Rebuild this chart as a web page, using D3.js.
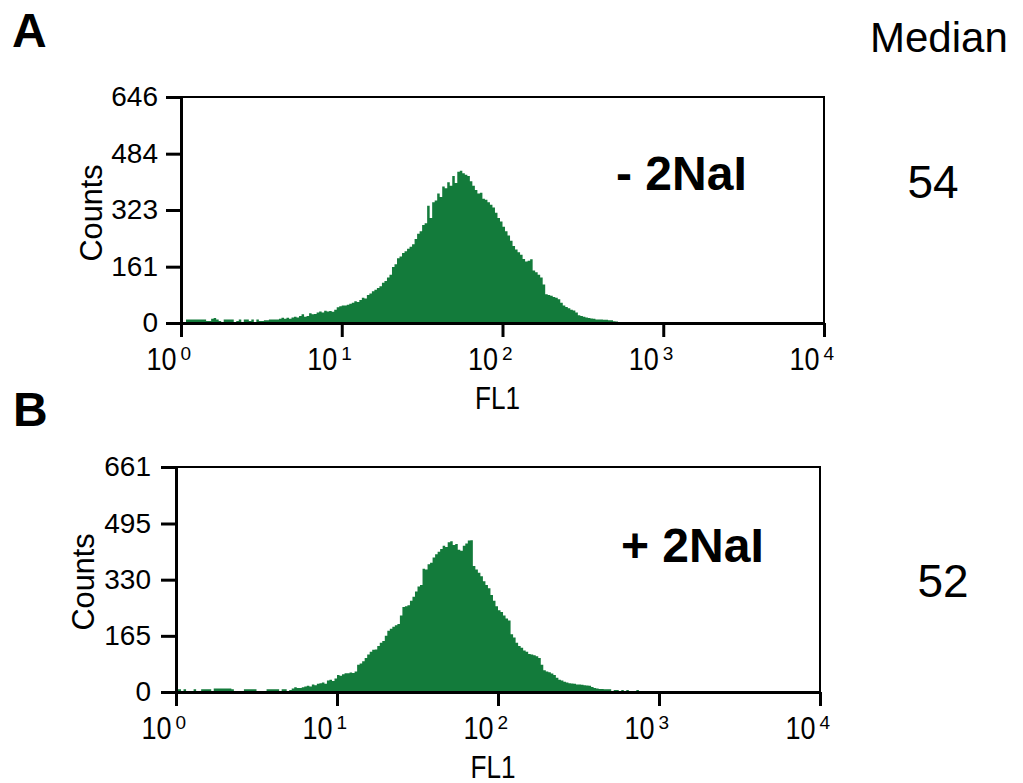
<!doctype html>
<html>
<head>
<style>
  body { margin: 0; background: #fff; }
  svg text { font-family: "Liberation Sans", Arial, sans-serif; fill: #000; }
  .axis path, .axis line { stroke: #000; stroke-width: 3; }
  .frame { fill: none; stroke: #000; stroke-width: 2; }
</style>
<script src="https://d3js.org/d3.v7.min.js"></script>
</head>
<body>
<svg width="1023" height="783"></svg>
<script>
// histogram counts, one value per channel (64 channels per decade, starting at 10^0)
var countsA = [0,0,10,10,10,10,10,10,10,10, 6,6,12,14,10,6,0,10,10,10, 10,0,6,10,0,10,10,6,10,0,
  10,6,6,8,8,10,10,10,10,12, 15,12,15,12,16,18,16,20,25,18, 20,28,25,26,30,33,30,35,33,34,
  32,38,45,48, 50,50,52,55,58,62,60,66,72,70, 80,84,91,95,100,105,115,120,130,138,
  160,168,185,190,200,205,212,218,225,240, 255,262,280,285,335,300,345,350,370,360,
  390,385,402,392,420,400,432,435,428,424, 420,405,392,380,370,372,355,352,345,338,
  330,315,300,290,275,262,250,235,220,210, 202,195,183,176,178,182,150,145,138,130,
  110,82,80,78,74,72,68,58,50,46, 42,38,36,30,22,20,18,16,14,13,
  12,10,10,10,9,9,8,8,5,4];
var countsB = [8,8,0,8,0,0,0,8,0,0, 8,8,8,8,0,10,10,10,10,10, 10,10,8,0,0,0,0,8,8,8,
  8,8,0,0,0,0,8,8,8,8, 8,0,8,8,0,6,10,14,12,12, 14,16,18,16,22,20,24,26,28,24,
  34,36,32,40, 50,48,52,55,55,57,56,60,80,84, 90,100,110,118,124,125,135,145,150,165,
  180,186,192,196,200,225,250,252,255,268, 280,295,310,314,362,360,375,380,395,405,
  412,420,430,426,440,443,432,435,418,415, 430,436,445,446,370,360,350,340,325,314,
  305,285,268,252,240,235,225,216,210,170, 160,145,135,130,122,118,112,110,108,105,
  100,80,64,60,58,54,50,42,36,34, 30,28,26,25,24,22,22,21,20,19,
  18,15,12,10,9,9,8,8,8,0, 6,6,0,6,0,6,0,0,0,6];

var yTicksA = [0, 161, 323, 484, 646];
var yTicksB = [0, 165, 330, 495, 661];
var decades = [0, 1, 2, 3, 4];
var panelLetters = ["A", "B"];
var conditions = ["- 2NaI", "+ 2NaI"];
var medians = ["54", "52"];

var svg = d3.select("svg");
var green = "#137b3b";
var perDecade = 64;

function drawPanel(p) {
  var x = d3.scaleLog().domain([1, 1e4]).range([p.left, p.right]);
  var y = d3.scaleLinear().domain([0, p.yMax]).range([p.bottom, p.top]);
  var g = svg.append("g");

  var pts = p.counts.map(function(v, i) { return {c: i, v: v}; });
  pts.push({c: p.counts.length, v: 0});
  var area = d3.area()
      .curve(d3.curveStepAfter)
      .x(function(d) { return x(Math.pow(10, d.c / perDecade)); })
      .y0(y(0))
      .y1(function(d) { return y(d.v); });
  g.append("path").datum(pts).attr("d", area).attr("fill", green);

  // top and right frame
  g.append("path").attr("class", "frame")
   .attr("d", "M" + p.left + "," + p.top + "H" + p.right + "V" + p.bottom);

  var ya = g.append("g").attr("class", "axis")
    .attr("transform", "translate(" + p.left + ",0)")
    .call(d3.axisLeft(y).tickValues(p.yTicks).tickSize(15).tickSizeOuter(0).tickPadding(p.pad));
  ya.selectAll("text").style("font-size", "28px").style("font-family", "Liberation Sans, Arial");

  var xa = g.append("g").attr("class", "axis")
    .attr("transform", "translate(0," + p.bottom + ")")
    .call(d3.axisBottom(x).tickValues(decades.map(function(d) { return Math.pow(10, d); }))
      .tickFormat("").tickSize(14).tickSizeOuter(0));
  xa.selectAll(".tick").each(function(d) {
    var t = d3.select(this);
    t.append("text").attr("x", -5).attr("y", 47).attr("text-anchor", "end")
     .attr("textLength", 30).attr("lengthAdjust", "spacingAndGlyphs")
     .style("font-size", "32px").style("font-family", "Liberation Sans, Arial").attr("fill", "#000").text("10");
    t.append("text").attr("x", -1).attr("y", 37).attr("text-anchor", "start")
     .style("font-size", "19px").style("font-family", "Liberation Sans, Arial").attr("fill", "#000")
     .text(Math.round(Math.log10(d)));
  });

  g.append("text").attr("x", (p.left + p.right) / 2 - 5).attr("y", p.bottom + 86)
   .attr("text-anchor", "middle").attr("textLength", 45).attr("lengthAdjust", "spacingAndGlyphs")
   .style("font-size", "32px").text("FL1");

  g.append("text").attr("transform", "translate(" + p.countsX + "," + p.countsY + ") rotate(-90)")
   .attr("text-anchor", "middle").attr("textLength", 97).attr("lengthAdjust", "spacingAndGlyphs")
   .style("font-size", "32px").text("Counts");

  g.append("text").attr("x", p.condX).attr("y", p.condY)
   .style("font-size", "48px").style("font-weight", "bold").text(p.cond);

  svg.append("text").attr("x", p.letterX).attr("y", p.letterY)
   .style("font-size", "48px").style("font-weight", "bold").text(p.letter);

  svg.append("text").attr("x", p.medX).attr("y", p.medY).attr("text-anchor", "middle")
   .style("font-size", "46px").text(p.median);
}

drawPanel({counts: countsA, yTicks: yTicksA, yMax: 646, left: 181, right: 824, top: 97, bottom: 323,
  pad: 8, countsX: 102, countsY: 213, cond: conditions[0], condX: 616, condY: 190,
  letter: panelLetters[0], letterX: 12, letterY: 47, median: medians[0], medX: 933, medY: 198});
drawPanel({counts: countsB, yTicks: yTicksB, yMax: 661, left: 176, right: 820, top: 467, bottom: 692,
  pad: 10, countsX: 94, countsY: 582, cond: conditions[1], condX: 621, condY: 562,
  letter: panelLetters[1], letterX: 13, letterY: 426, median: medians[1], medX: 943, medY: 597});

svg.append("text").attr("x", 870).attr("y", 52).style("font-size", "42px").text("Median");
</script>
</body>
</html>
